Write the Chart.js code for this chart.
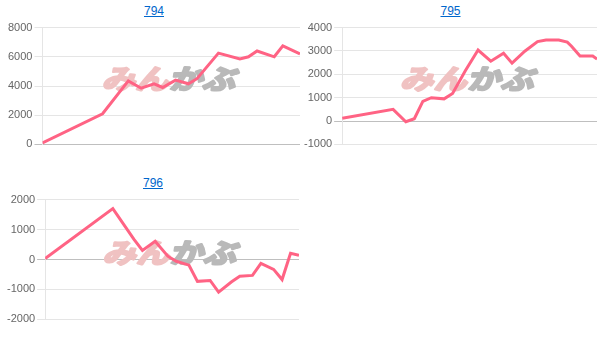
<!DOCTYPE html>
<html lang="ja">
<head>
<meta charset="utf-8">
<title>794 / 795 / 796</title>
<script src="https://cdn.jsdelivr.net/npm/chart.js@4.4.1/dist/chart.umd.min.js"></script>
<style>
  html, body { margin: 0; padding: 0; background: #fff; }
  body { width: 610px; height: 339px; position: relative; overflow: hidden; font-family: Arial, "Liberation Sans", sans-serif; }
  .panel { position: absolute; }
  .panel a { display: block; height: 19px; line-height: 22px; text-align: center; font-size: 12px; color: #0066cc; text-decoration: underline; }
  .panel .cv { position: relative; height: 134px; }
</style>
</head>
<body>
<div class="panel" style="left:6px; top:0px; width:296px;"><a href="#">794</a><div class="cv"><canvas id="c794"></canvas></div></div>
<div class="panel" style="left:302px; top:0px; width:297px;"><a href="#">795</a><div class="cv"><canvas id="c795"></canvas></div></div>
<div class="panel" style="left:5px; top:172px; width:296px;"><a href="#">796</a><div class="cv" style="height:137px;"><canvas id="c796"></canvas></div></div>
<script>
/* 各銘柄の損益推移（x = 経過日数, y = 損益） */
var DAYS_794 = [0, 14, 20, 23, 26, 28, 31, 34, 36, 41, 46, 48, 50, 54, 56, 60];
var VALS_794 = [100, 2100, 4350, 3850, 4150, 3900, 4400, 4150, 4500, 6250, 5850, 6000, 6400, 6000, 6750, 6200];
var TICKS_794 = [0, 8000, 2000];   // min, max, step

var DAYS_795 = [0, 12, 15, 17, 19, 21, 24, 26, 29, 32, 35, 38, 40, 43, 46, 48, 51, 53, 54, 56, 59, 60];
var VALS_795 = [120, 500, -30, 100, 840, 1000, 950, 1180, 2150, 3040, 2560, 2900, 2480, 2990, 3400, 3470, 3470, 3380, 3200, 2780, 2780, 2650];
var TICKS_795 = [-1000, 4000, 1000];

var DAYS_796 = [0, 16, 21, 23, 26, 29, 31, 34, 36, 39, 41, 44, 46, 49, 51, 54, 56, 58, 60];
var VALS_796 = [30, 1700, 670, 300, 610, 110, -60, -190, -730, -700, -1090, -750, -560, -530, -130, -330, -670, 210, 140];
var TICKS_796 = [-2000, 2000, 1000];

var DAY_MAX = 60;

(function (global) {
  'use strict';

  Chart.defaults.font.family = 'Arial, "Liberation Sans", sans-serif';
  Chart.defaults.font.size = 11;
  Chart.defaults.color = '#666';
  Chart.defaults.animation = false;

  /* 背景ロゴ（みんかぶ） */
  var logo = {
    id: 'logo',
    beforeDatasetsDraw: function (chart) {
      var a = chart.chartArea, ctx = chart.ctx;
      var cx = (a.left + a.right) / 2, cy = (a.top + a.bottom) / 2 - 7;
      ctx.save();
      ctx.font = 'bold 31px "Noto Sans CJK JP"';
      ctx.textBaseline = 'middle';
      ctx.lineJoin = 'round';
      ctx.lineWidth = 2.5;
      var parts = [['みん', '#f0c2c2'], ['かぶ', '#b9b9b9']];
      var w = ctx.measureText('みんかぶ').width;
      ctx.translate(cx, cy);
      ctx.transform(1, 0, -0.25, 1, 0, 0);
      ctx.scale(1.08, 0.88);
      var x = -w / 2;
      parts.forEach(function (p) {
        ctx.fillStyle = p[1];
        ctx.strokeStyle = p[1];
        ctx.strokeText(p[0], x, 0);
        ctx.fillText(p[0], x, 0);
        x += ctx.measureText(p[0]).width;
      });
      ctx.restore();
    }
  };

  function gridColor(c) { return c.tick && c.tick.value === 0 ? 'rgba(0,0,0,0.25)' : 'rgba(0,0,0,0.1)'; }

  function draw(id, days, vals, ticks) {
    var pts = days.map(function (d, i) { return { x: d, y: vals[i] }; });
    return new Chart(document.getElementById(id).getContext('2d'), {
      type: 'line',
      data: {
        datasets: [{
          data: pts,
          borderColor: '#ff6384', backgroundColor: '#ff6384',
          borderWidth: 3, pointRadius: 0, tension: 0, fill: false
        }]
      },
      options: {
        responsive: true, maintainAspectRatio: false,
        layout: { padding: { right: 2 } },
        plugins: { legend: { display: false }, tooltip: { enabled: false } },
        scales: {
          x: { type: 'linear', min: 0, max: DAY_MAX, display: false },
          y: {
            min: ticks[0], max: ticks[1],
            ticks: { stepSize: ticks[2], padding: 2, callback: function (v) { return String(v); } },
            grid: { color: gridColor, tickLength: 8 },
            border: { color: 'rgba(0,0,0,0.1)' }
          }
        }
      },
      plugins: [logo]
    });
  }

  draw('c794', DAYS_794, VALS_794, TICKS_794);
  draw('c795', DAYS_795, VALS_795, TICKS_795);
  draw('c796', DAYS_796, VALS_796, TICKS_796);
})(window);
</script>
</body>
</html>
